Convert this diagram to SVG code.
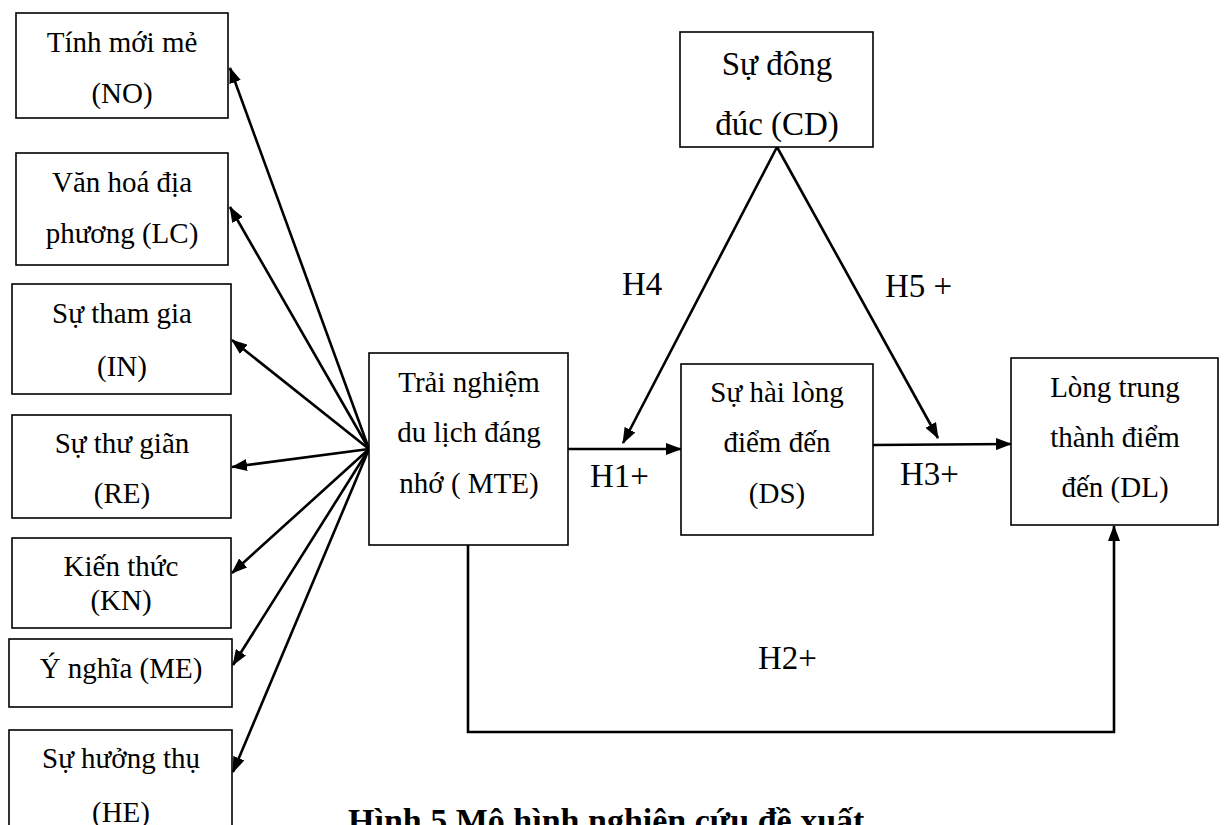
<svg xmlns="http://www.w3.org/2000/svg" width="1224" height="825" viewBox="0 0 1224 825">
  <defs>
    <style>
      .box { fill: #ffffff; stroke: #000000; stroke-width: 1.6; }
      .t { font-family: "Liberation Serif", "Times New Roman", serif; font-size: 29px; fill: #000000; text-anchor: middle; }
      .tl { font-family: "Liberation Serif", "Times New Roman", serif; font-size: 33px; fill: #000000; text-anchor: middle; }
      .lab { font-family: "Liberation Serif", "Times New Roman", serif; font-size: 33px; fill: #000000; }
      .cap { font-family: "Liberation Serif", "Times New Roman", serif; font-size: 34px; font-weight: bold; fill: #000000; }
      .conn { fill: none; stroke: #000000; stroke-width: 2.6; }
    </style>
    <marker id="arr" viewBox="0 0 16 12" refX="15" refY="6" markerWidth="16" markerHeight="12" markerUnits="userSpaceOnUse" orient="auto">
      <path d="M0,0 L16,6 L0,12 z" fill="#000000"/>
    </marker>
  </defs>
  <rect width="1224" height="825" fill="#ffffff"/>

  <g id="connectors">
    <line class="conn" x1="369" y1="449" x2="230" y2="68" marker-end="url(#arr)"/>
    <line class="conn" x1="369" y1="449" x2="230" y2="207" marker-end="url(#arr)"/>
    <line class="conn" x1="369" y1="449" x2="232" y2="340" marker-end="url(#arr)"/>
    <line class="conn" x1="369" y1="449" x2="232" y2="467" marker-end="url(#arr)"/>
    <line class="conn" x1="369" y1="449" x2="232" y2="573" marker-end="url(#arr)"/>
    <line class="conn" x1="369" y1="449" x2="233" y2="665" marker-end="url(#arr)"/>
    <line class="conn" x1="369" y1="449" x2="233" y2="772" marker-end="url(#arr)"/>
    <line class="conn" x1="568" y1="449" x2="681" y2="449" marker-end="url(#arr)"/>
    <line class="conn" x1="873" y1="445" x2="1011" y2="444" marker-end="url(#arr)"/>
    <line class="conn" x1="777" y1="147" x2="623" y2="443" marker-end="url(#arr)"/>
    <line class="conn" x1="777" y1="147" x2="938" y2="438" marker-end="url(#arr)"/>
    <polyline class="conn" points="468,545 468,732 1114,732 1114,526" marker-end="url(#arr)"/>
  </g>

  <g id="node-NO">
    <rect class="box" x="16" y="13" width="212" height="105"/>
    <text class="t" x="122" y="52">Tính mới mẻ</text>
    <text class="t" x="122" y="103">(NO)</text>
  </g>
  <g id="node-LC">
    <rect class="box" x="16" y="153" width="212" height="112"/>
    <text class="t" x="122" y="192">Văn hoá địa</text>
    <text class="t" x="122" y="243">phương (LC)</text>
  </g>
  <g id="node-IN">
    <rect class="box" x="12" y="284" width="219" height="110"/>
    <text class="t" x="122" y="323">Sự tham gia</text>
    <text class="t" x="122" y="376">(IN)</text>
  </g>
  <g id="node-RE">
    <rect class="box" x="12" y="415" width="219" height="103"/>
    <text class="t" x="122" y="453">Sự thư giãn</text>
    <text class="t" x="122" y="503">(RE)</text>
  </g>
  <g id="node-KN">
    <rect class="box" x="12" y="538" width="219" height="90"/>
    <text class="t" x="121" y="576">Kiến thức</text>
    <text class="t" x="121" y="610">(KN)</text>
  </g>
  <g id="node-ME">
    <rect class="box" x="9" y="639" width="223" height="68"/>
    <text class="t" x="121" y="678">Ý nghĩa (ME)</text>
  </g>
  <g id="node-HE">
    <rect class="box" x="9" y="730" width="223" height="110"/>
    <text class="t" x="121" y="768">Sự hưởng thụ</text>
    <text class="t" x="121" y="822">(HE)</text>
  </g>
  <g id="node-MTE">
    <rect class="box" x="369" y="353" width="199" height="192"/>
    <text class="t" x="469" y="392">Trải nghiệm</text>
    <text class="t" x="469" y="442">du lịch đáng</text>
    <text class="t" x="469" y="493">nhớ ( MTE)</text>
  </g>
  <g id="node-CD">
    <rect class="box" x="680" y="32" width="193" height="115"/>
    <text class="tl" x="777" y="75">Sự đông</text>
    <text class="tl" x="777" y="135">đúc (CD)</text>
  </g>
  <g id="node-DS">
    <rect class="box" x="681" y="364" width="192" height="171"/>
    <text class="t" x="777" y="402">Sự hài lòng</text>
    <text class="t" x="777" y="452">điểm đến</text>
    <text class="t" x="777" y="503">(DS)</text>
  </g>
  <g id="node-DL">
    <rect class="box" x="1011" y="358" width="207" height="167"/>
    <text class="t" x="1115" y="397">Lòng trung</text>
    <text class="t" x="1115" y="447">thành điểm</text>
    <text class="t" x="1115" y="497">đến (DL)</text>
  </g>

  <g id="labels">
    <text class="lab" x="622" y="295">H4</text>
    <text class="lab" x="885" y="297">H5 +</text>
    <text class="lab" x="590" y="487">H1+</text>
    <text class="lab" x="900" y="485">H3+</text>
    <text class="lab" x="758" y="669">H2+</text>
  </g>

  <text class="cap" x="348" y="832">Hình 5 Mô hình nghiên cứu đề xuất</text>
</svg>
